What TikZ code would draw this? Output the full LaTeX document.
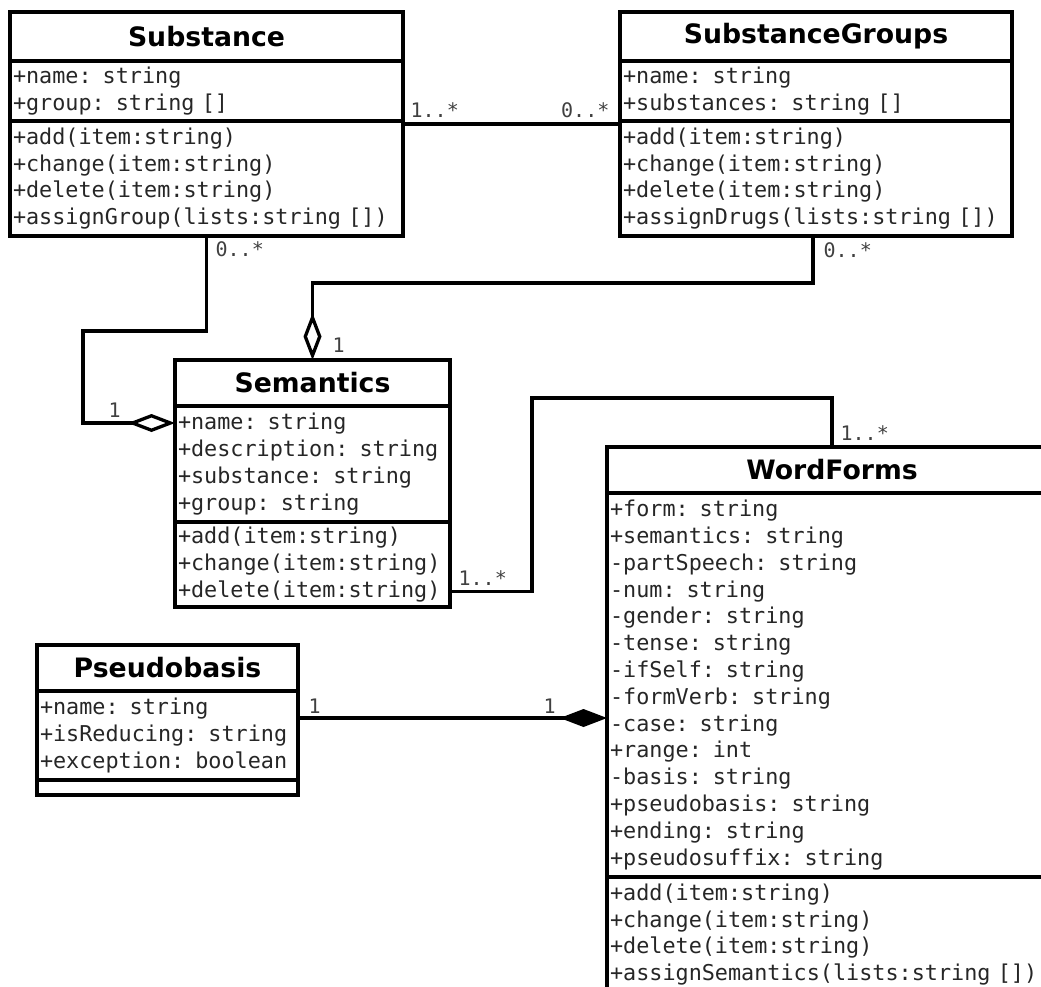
\documentclass[tikz,border=0pt]{standalone}
\usepackage{fontspec}
\usepackage{tikz}
\usetikzlibrary{positioning,arrows.meta}

\newfontfamily\umlsans{DejaVu Sans}
\newfontfamily\umlmono{DejaVu Sans Mono}

\begin{document}
\begin{tikzpicture}[x=1pt,y=-1pt,line width=3.3pt,
		class node/.style={rectangle,draw,anchor=north west,outer sep=0pt,inner sep=0pt,font=\umlsans\bfseries\fontsize{26.7}{32}\selectfont},
		member part/.style={rectangle,draw,outer sep=0pt,inner xsep=3pt,inner ysep=0pt,align=left,text=black!85,font=\umlmono\fontsize{21.8}{26.8}\selectfont},
		mult/.style={inner sep=0pt,text=black!75,font=\umlmono\fontsize{20}{24}\selectfont},
		aggregation/.style={-{Diamond[open,length=47pt,width=18pt]}},
		composition/.style={-{Diamond[length=47pt,width=18pt]}}]
		\useasboundingbox (0,0) rectangle (1041,986);
		\clip (0,0) rectangle (1041,986);

		% Substance
		\node[class node,minimum width=393pt,minimum height=49pt] (1) at (10,12) {Substance};
		\node[member part,text width=387pt,minimum height=60pt,below=0pt of 1] (1a)
			{+name: string\\+group: string []};
		\node[member part,text width=387pt,minimum height=115pt,below=0pt of 1a] (1o)
			{+add(item:string)\\+change(item:string)\\+delete(item:string)\\+assignGroup(lists:string [])};

		% SubstanceGroups
		\node[class node,minimum width=392pt,minimum height=49pt] (2) at (620,12) {SubstanceGroups};
		\node[member part,text width=386pt,minimum height=60pt,below=0pt of 2] (2a)
			{+name: string\\+substances: string []};
		\node[member part,text width=386pt,minimum height=115pt,below=0pt of 2a] (2o)
			{+add(item:string)\\+change(item:string)\\+delete(item:string)\\+assignDrugs(lists:string [])};

		% Semantics
		\node[class node,minimum width=275pt,minimum height=46pt] (3) at (175,360) {Semantics};
		\node[member part,text width=269pt,minimum height=116pt,below=0pt of 3] (3a)
			{+name: string\\+description: string\\+substance: string\\+group: string};
		\node[member part,text width=269pt,minimum height=85pt,below=0pt of 3a] (3o)
			{+add(item:string)\\+change(item:string)\\+delete(item:string)};

		% Pseudobasis
		\node[class node,minimum width=261pt,minimum height=46pt] (4) at (37,645) {Pseudobasis};
		\node[member part,text width=255pt,minimum height=89pt,below=0pt of 4] (4a)
			{+name: string\\+isReducing: string\\+exception: boolean};
		\node[member part,text width=255pt,minimum height=15pt,below=0pt of 4a] (4o) {};

		% WordForms
		\node[class node,minimum width=450pt,minimum height=46pt] (5) at (607,447) {WordForms};
		\node[member part,text width=444pt,minimum height=384pt,below=0pt of 5] (5a)
			{+form: string\\+semantics: string\\-partSpeech: string\\-num: string\\-gender: string\\-tense: string\\-ifSelf: string\\-formVerb: string\\-case: string\\+range: int\\-basis: string\\+pseudobasis: string\\+ending: string\\+pseudosuffix: string};
		\node[member part,text width=444pt,minimum height=115pt,below=0pt of 5a] (5o)
			{+add(item:string)\\+change(item:string)\\+delete(item:string)\\+assignSemantics(lists:string [])};

		% links
		\draw ([yshift=-3pt]1o.north east) -- ([yshift=-3pt]2o.north west);
		\draw[aggregation] (1o.south) |- (83,331) |- ([yshift=-17pt]3a.north west);
		\draw[aggregation] ([xshift=-3pt]2o.south) |- ([yshift=77pt]3.north) -- (3.north);
		\draw ([yshift=-27pt]3o.east) -| (532,398) -| (5.north);
		\coordinate (pb) at ([yshift=17.5pt]4a.east);
		\draw[composition] (pb) -- (pb -| 5a.west);

		% multiplicities
		\node[mult,anchor=west] (m1) at (409,110) {1..*};
		\node[mult,anchor=east] (m2) at (611,110) {0..*};
		\node[mult,anchor=west] (m3) at (214,249) {0..*};
		\node[mult,anchor=west] (m4) at (822,250) {0..*};
		\node[mult,anchor=west] (m5) at (107,410) {1};
		\node[mult,anchor=west] (m6) at (331,345) {1};
		\node[mult,anchor=west] (m7) at (457,578) {1..*};
		\node[mult,anchor=west] (m8) at (839,433) {1..*};
		\node[mult,anchor=west] (m9) at (307,706) {1};
		\node[mult,anchor=west] (m10) at (542,706) {1};
\end{tikzpicture}
\end{document}
